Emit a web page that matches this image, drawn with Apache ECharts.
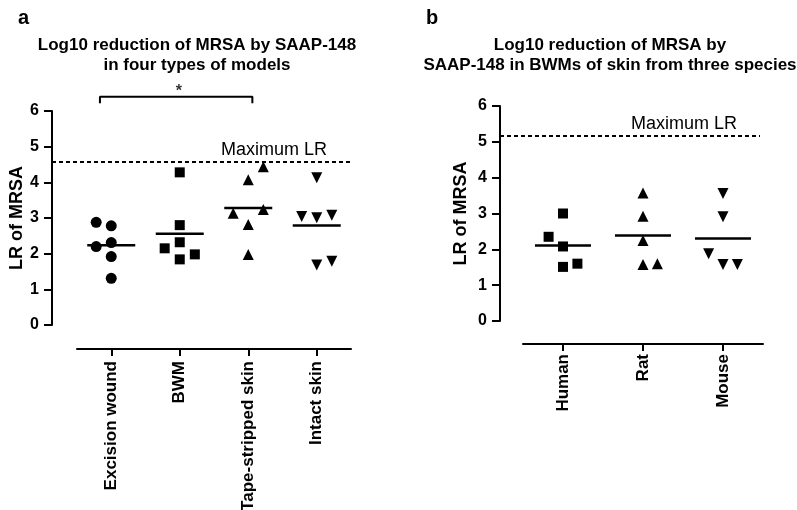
<!DOCTYPE html>
<html>
<head>
<meta charset="utf-8">
<script src="https://cdn.jsdelivr.net/npm/echarts@6/dist/echarts.min.js"></script>
<style>html,body{margin:0;padding:0;background:#fff;}#c{width:797px;height:510px;}</style>
</head>
<body>
<div id="c"></div>
<script>
// ---------- DATA ----------
const categoriesA = ['Excision wound', 'BWM', 'Tape-stripped skin', 'Intact skin'];
const excisionWound = [2.88, 2.78, 2.20, 2.31, 1.92, 1.31];
const bwm = [4.28, 2.80, 2.32, 2.15, 1.98, 1.84];
const tapeStripped = [4.44, 4.07, 3.13, 3.24, 2.82, 1.98];
const intactSkin = [4.13, 3.04, 3.01, 3.08, 1.68, 1.79];
// column of each dot inside its group (-1 left, 0 centre, 1 right)
const excisionCols = [-1, 0, -1, 0, 0, 0];
const bwmCols = [0, 0, 0, -1, 1, 0];
const tapeCols = [1, 0, -1, 1, 0, 0];
const intactCols = [0, -1, 0, 1, 0, 1];
const maxLRA = 4.58;

const categoriesB = ['Human', 'Rat', 'Mouse'];
const human = [3.00, 2.35, 2.08, 1.60, 1.51];
const rat = [3.57, 2.92, 2.25, 1.58, 1.60];
const mouse = [3.56, 2.91, 1.88, 1.58, 1.58];
const humanCols = [0, -1, 0, 1, 0];
const ratCols = [0, 0, 0, 0, 1];
const mouseCols = [0, 0, -1, 0, 1];
const maxLRB = 5.17;

const yTicks = [0, 1, 2, 3, 4, 5, 6];
const titleA = 'Log10 reduction of MRSA by SAAP-148\nin four types of models';
const titleB = 'Log10 reduction of MRSA by\nSAAP-148 in BWMs of skin from three species';
const yName = 'LR of MRSA';
const maxLabel = 'Maximum LR';
// significance: group 0 vs group 2
const sigPair = [0, 2];
const sigText = '*';

// ---------- CHART ----------
const FONT = '"Liberation Sans", Arial, Helvetica, sans-serif';
const mean = a => a.reduce((s, v) => s + v, 0) / a.length;
const invTri = 'path://M0,0 L10,0 L5,9 Z';

const chart = echarts.init(document.getElementById('c'), null, {renderer: 'canvas'});

function yAxisVisible(gridIndex, offset, nameGap) {
  return {
    type: 'value', gridIndex, min: yTicks[0], max: yTicks[yTicks.length - 1], interval: 1,
    offset,
    name: yName, nameLocation: 'middle', nameGap,
    nameTextStyle: {fontFamily: FONT, fontWeight: 'bold', fontSize: 18, color: '#000'},
    axisLine: {show: true, onZero: false, lineStyle: {color: '#000', width: 2}},
    axisTick: {show: true, length: 8, lineStyle: {color: '#000', width: 2}},
    axisLabel: {fontFamily: FONT, fontWeight: 'bold', fontSize: 16, color: '#000', margin: 13},
    splitLine: {show: false}
  };
}
function yAxisHidden(gridIndex) {
  return {type: 'value', gridIndex, min: 0, max: 6, show: false, splitLine: {show: false}};
}
function catAxis(gridIndex, data, offset, margin) {
  return {
    type: 'category', gridIndex, data, boundaryGap: true, offset,
    axisLine: {show: true, onZero: false, lineStyle: {color: '#000', width: 2}},
    axisTick: {show: true, alignWithLabel: true, length: 7, lineStyle: {color: '#000', width: 2}},
    axisLabel: {rotate: 90, fontFamily: FONT, fontWeight: 'bold', fontSize: 17, color: '#000', margin, interval: 0},
    splitLine: {show: false}
  };
}
function valAxisHidden(gridIndex, min, max) {
  return {type: 'value', gridIndex, min, max, show: false, splitLine: {show: false}};
}

const grids = [
  {left: 77, top: 111, width: 274, height: 214, outerBoundsMode: 'none', containLabel: false},   // 0 plot a
  {left: 52, top: 111, width: 298, height: 214, outerBoundsMode: 'none', containLabel: false},   // 1 max line a
  {left: 523, top: 106, width: 240, height: 215, outerBoundsMode: 'none', containLabel: false},  // 2 plot b
  {left: 500, top: 106, width: 260, height: 215, outerBoundsMode: 'none', containLabel: false}   // 3 max line b
];
const xAxes = [
  catAxis(0, categoriesA, 24, 12),
  valAxisHidden(0, -0.5, categoriesA.length - 0.5),
  valAxisHidden(1, 0, 1),
  catAxis(2, categoriesB, 23, 10),
  valAxisHidden(2, -0.5, categoriesB.length - 0.5),
  valAxisHidden(3, 0, 1)
];
const yAxes = [
  yAxisVisible(0, 25, 21),
  yAxisHidden(1),
  yAxisVisible(2, 23, 30),
  yAxisHidden(3)
];

const series = [];
function addGroup(xAxisIndex, yAxisIndex, idx, values, cols, spacing, symbol, size, meanWidth) {
  series.push({
    type: 'scatter', xAxisIndex, yAxisIndex, symbol, symbolSize: size,
    itemStyle: {color: '#000', opacity: 1}, silent: true,
    data: values.map((v, i) => [idx + cols[i] * spacing, v])
  });
  series.push({
    type: 'scatter', xAxisIndex, yAxisIndex, symbol: 'rect', symbolSize: [meanWidth, 2.5],
    itemStyle: {color: '#000', opacity: 1}, silent: true,
    data: [[idx, mean(values)]]
  });
}
const spA = 0.22, spB = 0.18;
addGroup(1, 0, 0, excisionWound, excisionCols, spA, 'circle', 11, 48);
addGroup(1, 0, 1, bwm, bwmCols, spA, 'rect', 10, 48);
addGroup(1, 0, 2, tapeStripped, tapeCols, spA, 'triangle', 11, 48);
addGroup(1, 0, 3, intactSkin, intactCols, spA, invTri, 11, 48);
addGroup(4, 2, 0, human, humanCols, spB, 'rect', 10, 56);
addGroup(4, 2, 1, rat, ratCols, spB, 'triangle', 11, 56);
addGroup(4, 2, 2, mouse, mouseCols, spB, invTri, 11, 56);

function maxLine(xAxisIndex, yAxisIndex, v) {
  series.push({
    type: 'line', xAxisIndex, yAxisIndex, data: [], silent: true,
    markLine: {
      symbol: 'none', silent: true, animation: false,
      lineStyle: {color: '#000', width: 2, type: [4, 3]},
      label: {show: true, position: 'insideEndTop', formatter: maxLabel, distance: [23, 3],
              fontFamily: FONT, fontSize: 18, color: '#000'},
      data: [{yAxis: v}]
    }
  });
}
maxLine(2, 1, maxLRA);
maxLine(5, 3, maxLRB);

// significance bracket (panel a)
const bx0 = sigPair[0] - 0.165, bx1 = sigPair[1] + 0.06, byTop = 6.40, byEnd = 6.22;
series.push({
  type: 'line', xAxisIndex: 1, yAxisIndex: 0, clip: false, symbol: 'none', silent: true,
  lineStyle: {color: '#000', width: 2},
  data: [[bx0, byEnd], [bx0, byTop], [bx1, byTop], [bx1, byEnd]]
});
series.push({
  type: 'scatter', xAxisIndex: 1, yAxisIndex: 0, clip: false, symbolSize: 0, silent: true,
  label: {show: true, formatter: sigText, position: 'top', distance: -3,
          fontFamily: FONT, fontWeight: 'bold', fontSize: 16, color: '#000'},
  data: [[(bx0 + bx1) / 2 + 0.04, byTop]]
});

const titleStyle = {fontFamily: FONT, fontWeight: 'bold', fontSize: 17, lineHeight: 20, color: '#000'};
chart.setOption({
  animation: false,
  backgroundColor: '#fff',
  title: [
    {text: 'a', left: 13, top: 3, textStyle: {fontFamily: FONT, fontWeight: 'bold', fontSize: 20, color: '#000'}},
    {text: 'b', left: 421, top: 3, textStyle: {fontFamily: FONT, fontWeight: 'bold', fontSize: 20, color: '#000'}},
    {text: titleA, left: 192, top: 30, textAlign: 'center', textStyle: titleStyle},
    {text: titleB, left: 605, top: 30, textAlign: 'center', textStyle: titleStyle}
  ],
  grid: grids,
  xAxis: xAxes,
  yAxis: yAxes,
  series
});
</script>
</body>
</html>
